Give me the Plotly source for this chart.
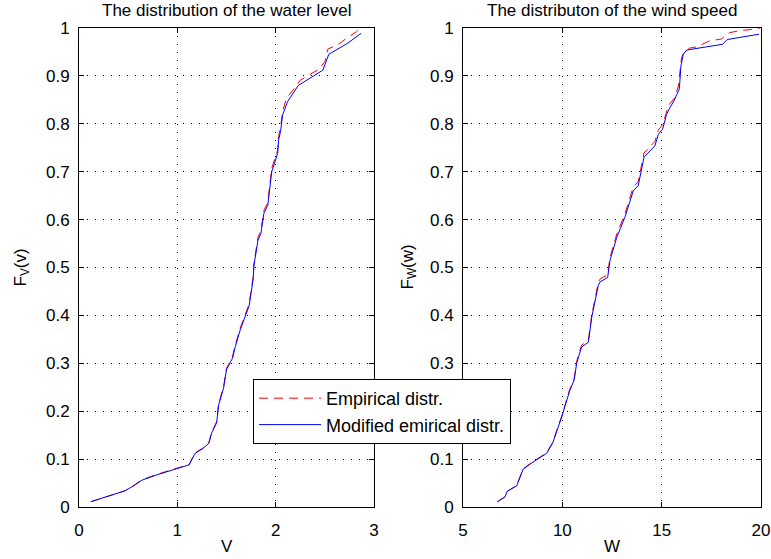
import plotly.graph_objects as go

# ---- data ----
v_mod_x = [0.12, 0.47, 0.57, 0.64, 0.79, 0.99, 1.12, 1.18, 1.26, 1.32, 1.35, 1.40, 1.42, 1.47, 1.50,
           1.56, 1.59, 1.64, 1.69, 1.73, 1.77, 1.78, 1.82, 1.85, 1.88, 1.92, 1.96, 1.99, 2.02, 2.03,
           2.05, 2.07, 2.12, 2.23, 2.48, 2.54, 2.65, 2.73, 2.87]
v_mod_y = [0.011, 0.034, 0.046, 0.056, 0.067, 0.079, 0.088, 0.112, 0.122, 0.133, 0.155, 0.176, 0.213,
           0.248, 0.287, 0.310, 0.335, 0.370, 0.397, 0.420, 0.474, 0.505, 0.557, 0.571, 0.613, 0.630,
           0.700, 0.717, 0.738, 0.766, 0.784, 0.818, 0.846, 0.880, 0.912, 0.945, 0.958, 0.968, 0.989]

v_emp_x = [0.12, 0.47, 0.57, 0.64, 0.79, 0.99, 1.12, 1.18, 1.26, 1.32, 1.35, 1.40, 1.42, 1.47, 1.50,
           1.56, 1.59, 1.64, 1.69, 1.73, 1.77, 1.78, 1.82, 1.85, 1.88, 1.92, 1.96, 1.99, 2.02, 2.03,
           2.05, 2.07, 2.11, 2.18, 2.25, 2.34, 2.44, 2.50, 2.53, 2.64, 2.73, 2.82, 2.86]
v_emp_y = [0.011, 0.034, 0.047, 0.057, 0.068, 0.080, 0.089, 0.113, 0.123, 0.134, 0.157, 0.178, 0.215,
           0.251, 0.290, 0.313, 0.339, 0.374, 0.401, 0.424, 0.479, 0.510, 0.563, 0.577, 0.619, 0.636,
           0.707, 0.724, 0.745, 0.774, 0.792, 0.826, 0.853, 0.871, 0.891, 0.902, 0.914, 0.930, 0.956,
           0.966, 0.980, 0.992, 1.000]

w_mod_x = [6.73, 7.11, 7.23, 7.70, 8.03, 8.46, 9.21, 9.51, 9.97, 10.35, 10.60, 10.72, 10.97, 11.31,
           11.48, 11.81, 11.90, 12.28, 12.40, 12.74, 13.15, 13.57, 13.82, 14.11, 14.66, 14.83, 15.05,
           15.25, 15.42, 15.62, 15.89, 15.97, 16.09, 16.26, 18.07, 18.30, 19.90]
w_mod_y = [0.011, 0.021, 0.033, 0.044, 0.079, 0.092, 0.112, 0.133, 0.188, 0.240, 0.266, 0.300, 0.334,
           0.344, 0.396, 0.4625, 0.470, 0.479, 0.515, 0.563, 0.605, 0.660, 0.671, 0.730, 0.754, 0.778,
           0.789, 0.820, 0.834, 0.848, 0.873, 0.921, 0.945, 0.954, 0.966, 0.976, 0.987]

w_emp_x = [6.73, 7.11, 7.23, 7.70, 8.03, 8.46, 9.21, 9.51, 9.97, 10.35, 10.60, 10.72, 10.97, 11.31,
           11.48, 11.81, 11.90, 12.28, 12.40, 12.74, 13.15, 13.57, 13.82, 14.11, 14.66, 14.83, 15.05,
           15.34, 15.67, 15.84, 16.00, 16.10, 16.40, 16.80, 17.40, 18.00, 18.40, 18.85, 19.50, 19.95]
w_emp_y = [0.011, 0.021, 0.033, 0.045, 0.080, 0.093, 0.113, 0.135, 0.190, 0.243, 0.269, 0.304, 0.338,
           0.348, 0.401, 0.468, 0.476, 0.485, 0.521, 0.570, 0.612, 0.668, 0.679, 0.739, 0.763, 0.787,
           0.798, 0.838, 0.855, 0.879, 0.938, 0.947, 0.958, 0.961, 0.973, 0.977, 0.990, 0.994, 0.997,
           1.000]

y_ticks = [0, 0.1, 0.2, 0.3, 0.4, 0.5, 0.6, 0.7, 0.8, 0.9, 1]
v_ticks = [0, 1, 2, 3]
w_ticks = [5, 10, 15, 20]

titles = ["The distribution of the water level", "The distributon of the wind speed"]
xlabels = ["V", "W"]
ylabels = ["F<sub>V</sub>(v)", "F<sub>W</sub>(w)"]
legend_names = ["Empirical distr.", "Modified emirical distr."]

# ---- figure ----
W, H = 771, 559
FONT = "Liberation Sans, Arial, sans-serif"
RED = "#ff0000"
BLUE = "#0000ff"
DASH = "9px,6px"

fig = go.Figure()
fig.add_trace(go.Scatter(x=v_emp_x, y=v_emp_y, mode="lines", name=legend_names[0], legendgroup="emp",
                         line=dict(color=RED, width=1, dash=DASH), xaxis="x", yaxis="y"))
fig.add_trace(go.Scatter(x=v_mod_x, y=v_mod_y, mode="lines", name=legend_names[1], legendgroup="mod",
                         line=dict(color=BLUE, width=1), xaxis="x", yaxis="y"))
fig.add_trace(go.Scatter(x=w_emp_x, y=w_emp_y, mode="lines", showlegend=False, legendgroup="emp",
                         line=dict(color=RED, width=1, dash=DASH), xaxis="x2", yaxis="y2"))
fig.add_trace(go.Scatter(x=w_mod_x, y=w_mod_y, mode="lines", showlegend=False, legendgroup="mod",
                         line=dict(color=BLUE, width=1), xaxis="x2", yaxis="y2"))

ydom = [1 - 507 / H, 1 - 28 / H]
xdom1 = [79 / W, 374 / W]
xdom2 = [463 / W, 761 / W]

axis_common = dict(showline=True, linecolor="black", linewidth=1, mirror="ticks",
                   ticks="inside", ticklen=5, tickcolor="black", showgrid=True,
                   gridcolor="black", gridwidth=1, griddash="1px,7px", zeroline=False,
                   automargin=False,
                   tickfont=dict(family=FONT, size=17, color="black"))

fig.update_layout(
    width=W, height=H,
    margin=dict(l=0, r=0, t=0, b=0, autoexpand=False),
    paper_bgcolor="white", plot_bgcolor="white",
    xaxis=dict(domain=xdom1, range=[0, 3], tickvals=v_ticks, anchor="y",
               ticklabelstandoff=8, **axis_common),
    yaxis=dict(domain=ydom, range=[0, 1], tickvals=y_ticks, anchor="x",
               ticklabelstandoff=5, **axis_common),
    xaxis2=dict(domain=xdom2, range=[5, 20], tickvals=w_ticks, anchor="y2",
                ticklabelstandoff=8, **axis_common),
    yaxis2=dict(domain=ydom, range=[0, 1], tickvals=y_ticks, anchor="x2",
                ticklabelstandoff=5, **axis_common),
    legend=dict(x=253 / W, y=1 - 379 / H, xanchor="left", yanchor="top",
                bgcolor="white", bordercolor="black", borderwidth=1,
                font=dict(family=FONT, size=18, color="black"), tracegroupgap=0,
                itemwidth=62),
    showlegend=True,
)

ann = []
for i, dom in enumerate([xdom1, xdom2]):
    cx = (dom[0] + dom[1]) / 2
    ann.append(dict(text=titles[i], x=cx, y=1 - 10 / H, xref="paper", yref="paper",
                    xanchor="center", yanchor="middle", showarrow=False,
                    font=dict(family=FONT, size=17, color="black")))
    ann.append(dict(text=xlabels[i], x=cx, y=1 - 546 / H, xref="paper", yref="paper",
                    xanchor="center", yanchor="middle", showarrow=False,
                    font=dict(family=FONT, size=17, color="black")))
ann.append(dict(text=ylabels[0], x=21 / W, y=(ydom[0] + ydom[1]) / 2, xref="paper", yref="paper",
                xanchor="center", yanchor="middle", textangle=-90, showarrow=False,
                font=dict(family=FONT, size=17, color="black")))
ann.append(dict(text=ylabels[1], x=408 / W, y=(ydom[0] + ydom[1]) / 2, xref="paper", yref="paper",
                xanchor="center", yanchor="middle", textangle=-90, showarrow=False,
                font=dict(family=FONT, size=17, color="black")))
fig.update_layout(annotations=ann)

fig.write_html("out.html")
